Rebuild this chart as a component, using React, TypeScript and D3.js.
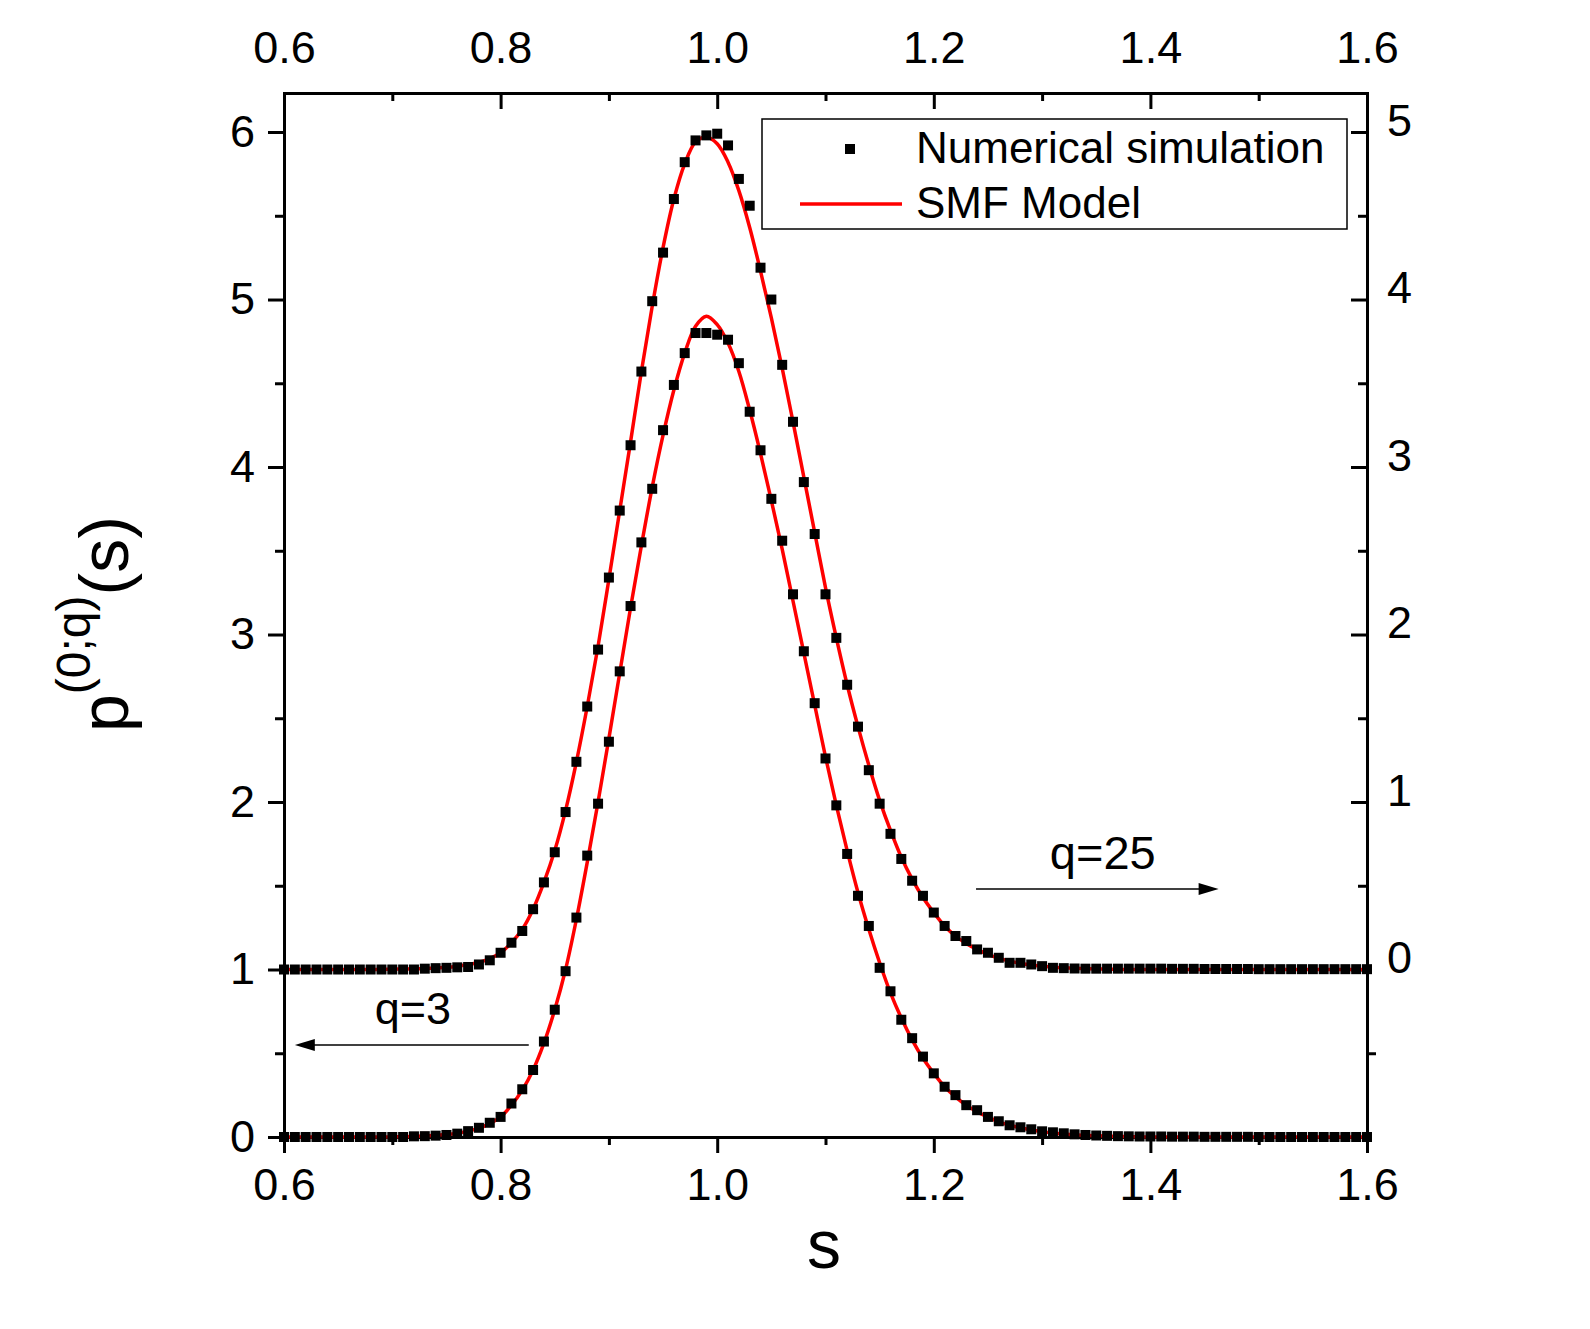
import { useEffect, useRef } from "react";
import * as d3 from "d3";

// sample positions s (0.60 .. 1.60, one per simulation point)
const S_GRID = [
  0.6, 0.61, 0.62, 0.63, 0.64, 0.65, 0.66, 0.67, 0.68, 0.69,
  0.7, 0.71, 0.72, 0.73, 0.74, 0.75, 0.76, 0.77, 0.78, 0.79,
  0.8, 0.81, 0.82, 0.83, 0.84, 0.85, 0.86, 0.87, 0.88, 0.89,
  0.9, 0.91, 0.92, 0.93, 0.94, 0.95, 0.96, 0.97, 0.98, 0.99,
  1.0, 1.01, 1.02, 1.03, 1.04, 1.05, 1.06, 1.07, 1.08, 1.09,
  1.1, 1.11, 1.12, 1.13, 1.14, 1.15, 1.16, 1.17, 1.18, 1.19,
  1.2, 1.21, 1.22, 1.23, 1.24, 1.25, 1.26, 1.27, 1.28, 1.29,
  1.3, 1.31, 1.32, 1.33, 1.34, 1.35, 1.36, 1.37, 1.38, 1.39,
  1.4, 1.41, 1.42, 1.43, 1.44, 1.45, 1.46, 1.47, 1.48, 1.49,
  1.5, 1.51, 1.52, 1.53, 1.54, 1.55, 1.56, 1.57, 1.58, 1.59,
  1.6,
];

// q=3, read against the left axis
const SIM_Q3 = [
  0, 0, 0, 0, 0, 0, 0, 0, 0, 0,
  0, 0, 0.004, 0.005, 0.008, 0.012, 0.02, 0.035, 0.055, 0.085,
  0.12, 0.2, 0.285, 0.4, 0.57, 0.76, 0.99, 1.31, 1.68, 1.99,
  2.36, 2.78, 3.17, 3.55, 3.87, 4.22, 4.49, 4.68, 4.8, 4.8,
  4.79, 4.76, 4.62, 4.33, 4.1, 3.81, 3.56, 3.24, 2.9, 2.59,
  2.26, 1.98, 1.69, 1.44, 1.26, 1.01, 0.87, 0.7, 0.59, 0.48,
  0.38, 0.3, 0.25, 0.19, 0.16, 0.12, 0.094, 0.07, 0.058, 0.046,
  0.034, 0.028, 0.022, 0.016, 0.012, 0.009, 0.007, 0.005, 0.004, 0.003,
  0.003, 0.003, 0.002, 0.002, 0.002, 0.001, 0.001, 0.001, 0.001, 0.001,
  0, 0, 0, 0, 0, 0, 0, 0, 0, 0,
  0,
];

const MODEL_Q3 = [
  0, 0, 0, 0, 0, 0, 0, 0, 0, 0,
  0.001, 0.002, 0.004, 0.006, 0.01, 0.015, 0.023, 0.035, 0.053, 0.08,
  0.12, 0.19, 0.28, 0.4, 0.56, 0.76, 1.0, 1.3, 1.64, 2.0,
  2.38, 2.77, 3.16, 3.53, 3.88, 4.19, 4.46, 4.68, 4.84, 4.9,
  4.85, 4.74, 4.57, 4.34, 4.08, 3.8, 3.51, 3.2, 2.89, 2.58,
  2.27, 1.98, 1.71, 1.46, 1.24, 1.04, 0.86, 0.71, 0.58, 0.47,
  0.38, 0.3, 0.24, 0.19, 0.15, 0.12, 0.09, 0.07, 0.055, 0.042,
  0.032, 0.024, 0.018, 0.013, 0.01, 0.007, 0.005, 0.003, 0.002, 0.001,
  0, 0, 0, 0, 0, 0, 0, 0, 0, 0,
  0, 0, 0, 0, 0, 0, 0, 0, 0, 0,
  0,
];

// q=25, read against the right axis
const SIM_Q25 = [
  0, 0, 0, 0, 0, 0, 0, 0, 0, 0,
  0, 0, 0, 0.005, 0.008, 0.01, 0.013, 0.015, 0.03, 0.055,
  0.1, 0.16, 0.23, 0.36, 0.52, 0.7, 0.94, 1.24, 1.57, 1.91,
  2.34, 2.74, 3.13, 3.57, 3.99, 4.28, 4.6, 4.82, 4.95, 4.98,
  4.99, 4.92, 4.72, 4.56, 4.19, 4.0, 3.61, 3.27, 2.91, 2.6,
  2.24, 1.98, 1.7, 1.45, 1.19, 0.99, 0.81, 0.66, 0.53, 0.44,
  0.34, 0.26, 0.2, 0.17, 0.12, 0.1, 0.07, 0.04, 0.04, 0.03,
  0.02, 0.01, 0.008, 0.006, 0.005, 0.005, 0.005, 0.005, 0.005, 0.005,
  0.005, 0.005, 0.004, 0.004, 0.004, 0.003, 0.003, 0.003, 0.003, 0.003,
  0.002, 0.002, 0.002, 0.002, 0.002, 0.002, 0.002, 0.002, 0.002, 0.002,
  0.002,
];

const MODEL_Q25 = [
  0, 0, 0, 0, 0, 0, 0, 0, 0, 0,
  0.002, 0.003, 0.004, 0.006, 0.009, 0.013, 0.02, 0.03, 0.042, 0.065,
  0.1, 0.16, 0.24, 0.36, 0.52, 0.71, 0.95, 1.24, 1.57, 1.93,
  2.33, 2.74, 3.15, 3.57, 3.96, 4.31, 4.6, 4.81, 4.94, 4.97,
  4.93, 4.82, 4.65, 4.43, 4.17, 3.89, 3.59, 3.27, 2.94, 2.61,
  2.28, 1.98, 1.7, 1.45, 1.22, 1.01, 0.83, 0.67, 0.54, 0.43,
  0.34, 0.26, 0.2, 0.155, 0.12, 0.09, 0.068, 0.05, 0.037, 0.027,
  0.02, 0.014, 0.01, 0.007, 0.005, 0.003, 0.002, 0.001, 0, 0,
  0, 0, 0, 0, 0, 0, 0, 0, 0, 0,
  0, 0, 0, 0, 0, 0, 0, 0, 0, 0,
  0,
];

const X_TICKS = [0.6, 0.8, 1.0, 1.2, 1.4, 1.6];
const X_MINOR = [0.7, 0.9, 1.1, 1.3, 1.5];
const LEFT_TICKS = [0, 1, 2, 3, 4, 5, 6];
const LEFT_MINOR = [0.5, 1.5, 2.5, 3.5, 4.5, 5.5];
const RIGHT_TICKS = [0, 1, 2, 3, 4, 5];
const RIGHT_MINOR = [0.5, 1.5, 2.5, 3.5, 4.5];
const RIGHT_MINOR_OUT = [-0.5];

const LEGEND_LABELS = ["Numerical simulation", "SMF Model"];

const W = 1590;
const H = 1329;
const FONT = "'Liberation Sans', Arial, Helvetica, sans-serif";

export default function App() {
  const svgRef = useRef<SVGSVGElement>(null);

  useEffect(() => {
    if (!svgRef.current) return;
    const svg = d3.select(svgRef.current);
    svg.selectAll("*").remove();

    const left = 284, right = 1367, top = 93, bottom = 1137;
    const x = d3.scaleLinear().domain([0.6, 1.6]).range([left, right]);
    const yL = d3.scaleLinear().domain([0, 6.233]).range([bottom, top]);
    const yR = d3.scaleLinear().domain([-1, 5.233]).range([bottom, top]);

    svg.append("rect").attr("width", W).attr("height", H).attr("fill", "#fff");

    const styleAxis = (sel: d3.Selection<SVGGElement, unknown, null, undefined>, keepDomain: boolean) => {
      sel.attr("font-family", FONT).attr("font-size", 45);
      if (keepDomain) {
        sel.select(".domain").attr("stroke", "#000").attr("stroke-width", 3).attr("stroke-linecap", "square");
      } else {
        sel.select(".domain").remove();
      }
      sel.selectAll(".tick line").attr("stroke", "#000").attr("stroke-width", 3);
      sel.selectAll(".tick text").attr("fill", "#000");
    };
    const noLabel = () => "";

    // bottom
    svg.append("g").attr("transform", `translate(0,${bottom})`)
      .call(d3.axisBottom(x).tickValues(X_TICKS).tickSize(16).tickSizeOuter(0).tickPadding(15).tickFormat(d3.format(".1f")))
      .call((g) => styleAxis(g, true));
    svg.append("g").attr("transform", `translate(0,${bottom})`)
      .call(d3.axisBottom(x).tickValues(X_MINOR).tickSize(8).tickFormat(noLabel))
      .call((g) => styleAxis(g, false));

    // top
    svg.append("g").attr("transform", `translate(0,${top})`)
      .call(d3.axisTop(x).tickValues(X_TICKS).tickSize(-16).tickSizeOuter(0).tickPadding(30).tickFormat(d3.format(".1f")))
      .call((g) => styleAxis(g, true));
    svg.append("g").attr("transform", `translate(0,${top})`)
      .call(d3.axisTop(x).tickValues(X_MINOR).tickSize(-8).tickFormat(noLabel))
      .call((g) => styleAxis(g, false));

    // left
    svg.append("g").attr("transform", `translate(${left},0)`)
      .call(d3.axisLeft(yL).tickValues(LEFT_TICKS).tickSize(16).tickSizeOuter(0).tickPadding(13).tickFormat(d3.format("d")))
      .call((g) => styleAxis(g, true));
    svg.append("g").attr("transform", `translate(${left},0)`)
      .call(d3.axisLeft(yL).tickValues(LEFT_MINOR).tickSize(9).tickFormat(noLabel))
      .call((g) => styleAxis(g, false));

    // right
    svg.append("g").attr("transform", `translate(${right},0)`)
      .call(d3.axisRight(yR).tickValues(RIGHT_TICKS).tickSize(-16).tickSizeOuter(0).tickPadding(20).tickFormat(d3.format("d")))
      .call((g) => {
        styleAxis(g, true);
        g.selectAll(".tick text").attr("dy", 3);
      });
    svg.append("g").attr("transform", `translate(${right},0)`)
      .call(d3.axisRight(yR).tickValues(RIGHT_MINOR).tickSize(-9).tickFormat(noLabel))
      .call((g) => styleAxis(g, false));
    svg.append("g").attr("transform", `translate(${right},0)`)
      .call(d3.axisRight(yR).tickValues(RIGHT_MINOR_OUT).tickSize(9).tickFormat(noLabel))
      .call((g) => styleAxis(g, false));

    // model curves
    const lineLeft = d3.line<number>()
      .x((_, i) => x(S_GRID[i]))
      .y((d) => yL(d))
      .curve(d3.curveCatmullRom.alpha(0.5));
    const lineRight = d3.line<number>()
      .x((_, i) => x(S_GRID[i]))
      .y((d) => yR(d))
      .curve(d3.curveCatmullRom.alpha(0.5));

    svg.append("path").datum(MODEL_Q3).attr("d", lineLeft)
      .attr("fill", "none").attr("stroke", "#ff0000").attr("stroke-width", 3.5);
    svg.append("path").datum(MODEL_Q25).attr("d", lineRight)
      .attr("fill", "none").attr("stroke", "#ff0000").attr("stroke-width", 3.5);

    // simulation points
    const SQ = 10;
    svg.append("g").selectAll("rect")
      .data(SIM_Q3)
      .join("rect")
      .attr("x", (_, i) => x(S_GRID[i]) - SQ / 2)
      .attr("y", (d) => yL(d) - SQ / 2)
      .attr("width", SQ).attr("height", SQ).attr("fill", "#000");
    svg.append("g").selectAll("rect")
      .data(SIM_Q25)
      .join("rect")
      .attr("x", (_, i) => x(S_GRID[i]) - SQ / 2)
      .attr("y", (d) => yR(d) - SQ / 2)
      .attr("width", SQ).attr("height", SQ).attr("fill", "#000");

    // annotations: q=3 (left axis), q=25 (right axis)
    const arrow = (x1: number, x2: number, yy: number) => {
      const dir = Math.sign(x2 - x1);
      svg.append("line")
        .attr("x1", x1).attr("x2", x2 - dir * 18).attr("y1", yy).attr("y2", yy)
        .attr("stroke", "#000").attr("stroke-width", 1.5);
      svg.append("path")
        .attr("d", `M${x2},${yy}L${x2 - dir * 20},${yy - 6}L${x2 - dir * 20},${yy + 6}Z`)
        .attr("fill", "#000");
    };
    arrow(x(0.826), x(0.61), yL(0.549));
    svg.append("text")
      .attr("x", x(0.719)).attr("y", yL(0.675))
      .attr("text-anchor", "middle").attr("font-family", FONT).attr("font-size", 45)
      .text("q=3");
    arrow(x(1.239), x(1.463), yR(0.481));
    svg.append("text")
      .attr("x", x(1.356)).attr("y", yR(0.6))
      .attr("text-anchor", "middle").attr("font-family", FONT).attr("font-size", 47)
      .text("q=25");

    // legend
    const lg = svg.append("g");
    lg.append("rect")
      .attr("x", 762).attr("y", 119).attr("width", 585).attr("height", 110)
      .attr("fill", "#fff").attr("stroke", "#000").attr("stroke-width", 1.5);
    lg.append("rect")
      .attr("x", 850 - SQ / 2).attr("y", 149 - SQ / 2).attr("width", SQ).attr("height", SQ)
      .attr("fill", "#000");
    lg.append("line")
      .attr("x1", 800).attr("x2", 902).attr("y1", 204).attr("y2", 204)
      .attr("stroke", "#ff0000").attr("stroke-width", 3.5);
    LEGEND_LABELS.forEach((label, i) => {
      lg.append("text")
        .attr("x", 916).attr("y", 163 + i * 55)
        .attr("font-family", FONT).attr("font-size", 44)
        .text(label);
    });

    // axis titles
    svg.append("text")
      .attr("x", 824).attr("y", 1268)
      .attr("text-anchor", "middle").attr("font-family", FONT).attr("font-size", 68)
      .text("s");
    const yt = svg.append("text")
      .attr("transform", "translate(128,732) rotate(-90)")
      .attr("font-family", FONT);
    yt.append("tspan").attr("font-size", 68).text("p");
    yt.append("tspan").attr("font-size", 48).attr("dy", -38).text("(0;q)");
    yt.append("tspan").attr("font-size", 68).attr("dy", 38).text("(s)");
  }, []);

  return (
    <svg
      ref={svgRef}
      width={W}
      height={H}
      style={{ position: "absolute", left: 0, top: 0, display: "block" }}
    />
  );
}
